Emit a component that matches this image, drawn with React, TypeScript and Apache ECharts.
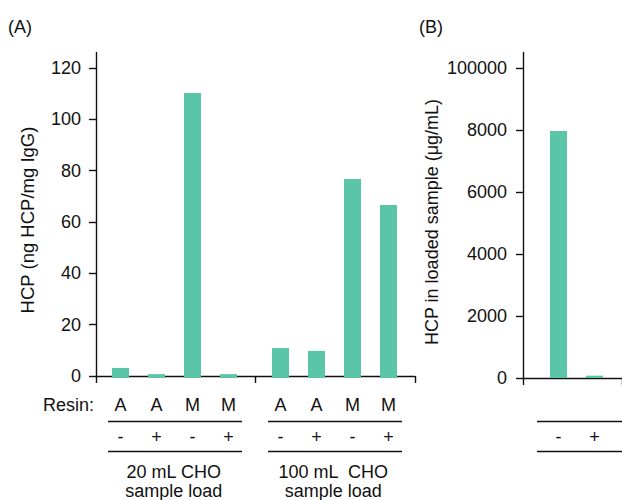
import React, { useEffect, useRef } from 'react';
import * as echarts from 'echarts';

const resinLabels = ['A', 'A', 'M', 'M'];
const additiveLabels = ['-', '+', '-', '+'];
const loadGroups = ['20 mL CHO\nsample load', '100 mL  CHO\nsample load'];
const hcp20mL = [3.9, 1.5, 110.3, 1.5];
const hcp100mL = [11.6, 10.5, 77.0, 67.0];
const sampleLabels = ['-', '+'];
const hcpLoaded = [7970, 75];
const yTicksA = [0, 20, 40, 60, 80, 100, 120];
const yTicksB = [0, 2000, 4000, 6000, 8000, 10000];
const yTickLabelsB = ['0', '2000', '4000', '6000', '8000', '100000'];
const yNameA = 'HCP (ng HCP/mg IgG)';
const yNameB = 'HCP in loaded sample (μg/mL)';

const FONT = 'Liberation Sans, Arial, sans-serif';
const INK = '#111111';
const BAR = '#5BC5A8';
const TOP = 52.5;
const BOTTOM = 122;
const MAX_A = 126;
const MAX_B = 10500;

const lineStyle = { color: INK, width: 1.4 };
const textBase = { fontFamily: FONT, fontSize: 18, color: INK };

export default function App() {
  const ref = useRef<HTMLDivElement>(null);
  useEffect(() => {
    if (!ref.current) return;
    const chart = echarts.init(ref.current, null, { renderer: 'svg' });

    const hiddenY = (gridIndex: number, max: number) => ({
      type: 'value', gridIndex, min: 0, max, show: false, splitLine: { show: false },
    });
    const labelX = (gridIndex: number, data: string[], margin: number) => ({
      type: 'category', gridIndex, data, position: 'bottom',
      axisLine: { show: false }, axisTick: { show: false }, splitLine: { show: false },
      axisLabel: { ...textBase, margin, interval: 0 },
    });

    const option: any = {
      animation: false,
      grid: [
        { left: 96, width: 319, top: TOP, bottom: BOTTOM },
        { left: 102.5, width: 144, top: TOP, bottom: BOTTOM },
        { left: 262.5, width: 144, top: TOP, bottom: BOTTOM },
        { left: 523, width: 130, top: TOP, bottom: BOTTOM },
        { left: 540.5, width: 72, top: TOP, bottom: BOTTOM },
      ],
      xAxis: [
        {
          type: 'category', gridIndex: 0, data: loadGroups,
          axisLine: { show: true, lineStyle },
          axisTick: { show: true, length: 7, lineStyle },
          axisLabel: { ...textBase, margin: 86, lineHeight: 19, interval: 0, padding: [0, 4, 0, 0] },
          splitLine: { show: false },
        },
        labelX(1, resinLabels, 18),
        labelX(1, additiveLabels, 50),
        labelX(2, resinLabels, 18),
        labelX(2, additiveLabels, 50),
        {
          type: 'category', gridIndex: 3, data: [''],
          axisLine: { show: true, lineStyle },
          axisTick: { show: true, length: 7, lineStyle },
          axisLabel: { show: false },
          splitLine: { show: false },
        },
        labelX(4, sampleLabels, 50),
      ],
      yAxis: [
        {
          type: 'value', gridIndex: 0, min: 0, max: MAX_A,
          axisLine: { show: true, lineStyle },
          axisTick: { show: true, length: 7, lineStyle, customValues: yTicksA },
          axisLabel: { ...textBase, margin: 15, customValues: yTicksA },
          splitLine: { show: false },
        },
        hiddenY(1, MAX_A),
        hiddenY(2, MAX_A),
        {
          type: 'value', gridIndex: 3, min: 0, max: MAX_B,
          axisLine: { show: true, lineStyle },
          axisTick: { show: true, length: 7, lineStyle, customValues: yTicksB },
          axisLabel: {
            ...textBase, margin: 16, customValues: yTicksB,
            formatter: (v: number) => {
              const i = yTicksB.indexOf(v);
              return i >= 0 ? yTickLabelsB[i] : '';
            },
          },
          splitLine: { show: false },
        },
        hiddenY(4, MAX_B),
      ],
      series: [
        { type: 'bar', xAxisIndex: 1, yAxisIndex: 1, data: hcp20mL, barWidth: 17, itemStyle: { color: BAR } },
        { type: 'bar', xAxisIndex: 3, yAxisIndex: 2, data: hcp100mL, barWidth: 17, itemStyle: { color: BAR } },
        { type: 'bar', xAxisIndex: 6, yAxisIndex: 4, data: hcpLoaded, barWidth: 17, itemStyle: { color: BAR } },
      ],
      graphic: [
        { type: 'text', left: 8, top: 18, style: { text: '(A)', font: `18px ${FONT}`, fill: INK } },
        { type: 'text', left: 419, top: 18, style: { text: '(B)', font: `18px ${FONT}`, fill: INK } },
        { type: 'text', x: 27, y: 220, rotation: Math.PI / 2, style: { text: yNameA, font: `18.5px ${FONT}`, fill: INK, align: 'center', verticalAlign: 'middle' } },
        { type: 'text', x: 432, y: 222, rotation: Math.PI / 2, style: { text: yNameB, font: `18px ${FONT}`, fill: INK, align: 'center', verticalAlign: 'middle' } },
        { type: 'text', x: 94, y: 405, style: { text: 'Resin:', font: `18px ${FONT}`, fill: INK, align: 'right', verticalAlign: 'middle' } },
        { type: 'line', shape: { x1: 108, y1: 421.5, x2: 242, y2: 421.5 }, style: { stroke: INK, lineWidth: 1.4 } },
        { type: 'line', shape: { x1: 108, y1: 451.5, x2: 242, y2: 451.5 }, style: { stroke: INK, lineWidth: 1.4 } },
        { type: 'line', shape: { x1: 268, y1: 421.5, x2: 402, y2: 421.5 }, style: { stroke: INK, lineWidth: 1.4 } },
        { type: 'line', shape: { x1: 268, y1: 451.5, x2: 402, y2: 451.5 }, style: { stroke: INK, lineWidth: 1.4 } },
        { type: 'line', shape: { x1: 537, y1: 421.5, x2: 622, y2: 421.5 }, style: { stroke: INK, lineWidth: 1.4 } },
        { type: 'line', shape: { x1: 537, y1: 451.5, x2: 622, y2: 451.5 }, style: { stroke: INK, lineWidth: 1.4 } },
      ],
    };
    chart.setOption(option);
    return () => chart.dispose();
  }, []);
  return <div ref={ref} style={{ position: 'fixed', left: 0, top: 0, width: 622, height: 500, background: '#fff' }} />;
}
